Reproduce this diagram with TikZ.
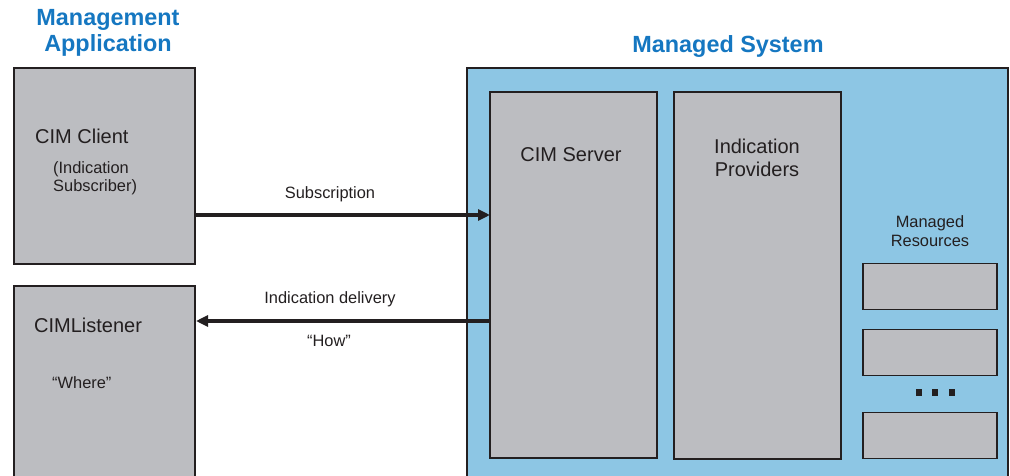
\documentclass[tikz,border=0pt]{standalone}
\usepackage{fontspec}
\setmainfont{Liberation Sans}
\usetikzlibrary{arrows.meta}
\definecolor{titleblue}{HTML}{1577C1}
\definecolor{boxgray}{HTML}{BCBDC1}
\definecolor{sysblue}{HTML}{8DC6E4}
\definecolor{edge}{HTML}{231F20}
\begin{document}
\begin{tikzpicture}[x=1pt,y=-1pt,
  box/.style={draw=edge,line width=2.4pt,fill=boxgray,rectangle,inner sep=0pt,outer sep=0pt},
  rbox/.style={draw=edge,line width=1.8pt,fill=boxgray,rectangle,inner sep=0pt,outer sep=0pt,minimum width=134pt,minimum height=46pt},
  sysbox/.style={draw=edge,line width=2.2pt,fill=sysblue,rectangle,inner sep=0pt,outer sep=0pt},
  title/.style={text=titleblue,font=\bfseries\fontsize{23.4}{26}\selectfont,align=center,inner sep=0pt},
  big/.style={text=edge,font=\fontsize{20}{23}\selectfont,inner sep=0pt,align=center},
  small/.style={text=edge,font=\fontsize{16.4}{18.5}\selectfont,inner sep=0pt,align=left},
  arr/.style={draw=edge,line width=3.8pt,-{Triangle[length=12pt,width=11pt]}},
  dot/.style={fill=edge,draw=none,rectangle,minimum size=6.5pt,inner sep=0pt}]
\useasboundingbox (0,0) rectangle (1010,476);
\clip (0,0) rectangle (1010,476);
% titles
\node[title] (mgmt) at (108,33) {Management\\Application};
\node[title] (msys) at (728,47) {Managed System};
% managed system
\node[sysbox,minimum width=541pt,minimum height=460pt] (sys) at (737.5,298) {};
% left boxes
\node[box,minimum width=181pt,minimum height=196pt] (client) at (104.5,166) {};
\node[box,minimum width=181pt,minimum height=240pt] (listener) at (104.5,406) {};
% inner boxes
\node[box,minimum width=167pt,minimum height=366pt] (server) at (573.5,275) {};
\node[box,minimum width=167pt,minimum height=367pt] (prov) at (757.5,275.5) {};
\node[rbox] (r1) at (930,286.5) {};
\node[rbox] (r2) at (930,352.5) {};
\node[rbox] (r3) at (930,435.5) {};
\node[dot] (d1) at (919,392.5) {};
\node[dot] (d2) at (935,392.5) {};
\node[dot] (d3) at (952,392.5) {};
% texts
\node[big,anchor=west] (clientt) at (35,136) {CIM Client};
\node[small,anchor=north west] (clients) at (53,161) {(Indication\\Subscriber)};
\node[big,anchor=west] (listent) at (34,325) {CIMListener};
\node[small,anchor=west] (where) at (52,383) {“Where”};
\node[big] (servert) at (571,155) {CIM Server};
\node[big] (provt) at (757,157.5) {Indication\\Providers};
\node[small,align=center] (mrt) at (930,231) {Managed\\Resources};
% arrows
\coordinate (sy) at (0,215);
\coordinate (dy) at (0,321);
\draw[arr] (client.east |- sy) -- (server.west |- sy);
\draw[arr] (server.west |- dy) -- ([xshift=1pt]listener.east |- dy);
\node[small] (subl) at (330,194) {Subscription};
\node[small] (dell) at (330,299) {Indication delivery};
\node[small] (howl) at (329,341) {“How”};
\end{tikzpicture}
\end{document}
